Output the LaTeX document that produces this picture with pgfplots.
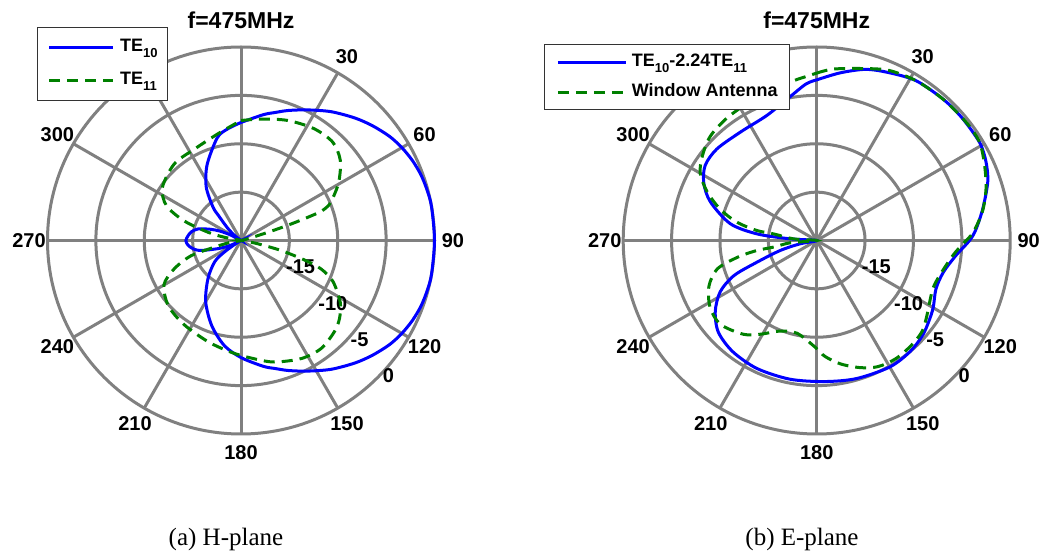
\documentclass[border=0pt]{standalone}
\usepackage{pgfplots}
\pgfplotsset{compat=1.18}
\usepackage{pgfplotstable}
\usepackage{fontspec}
\setmainfont{Liberation Sans}
\newfontfamily\capfont{Liberation Serif}

\definecolor{gridgray}{RGB}{128,128,128}
\definecolor{mblue}{RGB}{0,0,255}
\definecolor{mgreen}{RGB}{0,128,0}

\newcommand{\lab}{\fontsize{20}{20}\selectfont\bfseries}
\newcommand{\sub}[1]{\raisebox{-6pt}{\fontsize{13}{13}\selectfont #1}}

% radiation patterns: angle (deg, clockwise from top) and level (dB, floor -20 dB)
\pgfplotstableread{
ang db
0 -7.8
10 -6.8
15 -6.3
20 -5.7
27 -4.85
35 -3.75
43 -2.7
49 -1.95
55 -1.25
60 -0.8
65 -0.45
70 -0.2
75 -0.07
80 0
90 0
100 0
105 -0.07
110 -0.2
115 -0.45
120 -0.8
125 -1.25
131 -1.95
137 -2.7
145 -3.75
153 -4.85
160 -5.7
165 -6.3
170 -6.8
180 -7.9
189 -9.0
199 -10.7
210 -12.7
221 -14.8
231 -16.5
235 -17.8
238 -19.2
240 -20
245 -18.9
250 -17.6
256 -15.75
260 -15.0
265 -14.5
270 -14.3
275 -14.5
280 -14.8
285 -15.4
290 -16.6
294 -17.6
298 -18.8
303 -20
308 -19.2
312 -18.3
315 -17.6
318 -16.5
320 -15.5
327 -13.4
336 -11.4
347 -9.1
353 -8.4
360 -7.8
}\hTEten

\pgfplotstableread{
ang db
0 -7.6
9 -7.3
21 -6.7
33 -6.2
43 -6.1
51 -6.8
59 -8.2
65 -9.5
68 -10.2
70 -11.2
71 -13.0
72 -15.0
73 -17.0
74.5 -18.8
80 -19.8
90 -20
98 -19.7
101 -18.25
104 -15.75
107 -13.2
109.5 -11.25
114 -9.6
122 -7.9
128.5 -7.0
134.5 -6.5
143.5 -6.1
153 -6.3
165 -7.0
175 -7.8
185 -8.4
198 -9.0
214 -9.5
228 -9.9
240 -10.8
247 -12.5
253 -14.6
256 -17.2
261 -19.0
270 -20
281 -18.25
284 -16.5
289 -13.8
295 -11.5
304 -10.2
319 -9.5
333 -9.4
348 -8.7
360 -7.6
}\hTEeleven

\pgfplotstableread{
ang db
0 -3.4
8 -2.5
16 -1.6
23.5 -1.1
32 -0.55
42 -0.4
50 -0.35
59 -0.35
65 -0.7
71 -1.3
79 -2.5
86 -3.5
90 -4.2
96 -5.5
104 -6.5
112 -6.7
120 -6.1
126 -5.7
132 -5.3
140 -5.0
150 -4.9
164 -5.15
177 -5.4
191 -5.4
205 -5.4
217 -5.6
227 -6.1
235 -7.2
242 -8.7
247 -10.7
250 -13.4
254.7 -16.1
258.7 -18.25
265 -20
273.6 -17.25
276.3 -13.8
281 -10.9
290 -8.3
297 -6.9
304 -6.1
312.5 -6.0
325 -6.3
338 -6.1
348 -5.1
356 -3.8
360 -3.4
}\eComb

\pgfplotstableread{
ang db
0 -2.7
5.5 -2.2
15 -1.6
23 -0.9
32 -0.55
42 -0.4
52 -0.3
59 -0.35
66 -1.0
73 -1.7
80 -2.6
87 -3.8
91 -4.8
96 -5.8
106 -6.8
112.5 -7.0
120 -6.6
125.5 -6.1
131 -5.6
138 -5.4
146 -5.3
154 -5.5
161 -6.1
169 -7.0
176 -8.0
181 -9.0
192 -10.2
202 -9.9
211 -8.7
218 -7.7
229 -6.8
238 -7.0
247 -7.9
254 -9.3
258 -11.6
260.5 -13.7
261.3 -15.5
265 -17.25
270 -20
274 -17.6
278.7 -15.5
279.5 -13.7
283 -11.5
288 -9.5
294 -7.6
300 -6.1
306.5 -5.3
314.5 -4.6
324 -4.3
336 -4.0
345 -3.7
352 -3.3
356.5 -3.0
360 -2.7
}\eWindow

% polar grid (rings every 5 dB, spokes every 30 deg), angle and dB labels, title
\newcommand{\polardeco}{%
  \pgfplotsinvokeforeach{48.375,96.75,145.125,193.5}{%
    \draw[gridgray, line width=3pt, overlay] (axis cs:0,0) circle[radius=##1pt];}
  \pgfplotsinvokeforeach{0,30,60,90,120,150}{%
    \draw[gridgray, line width=3pt, overlay]
      (axis cs:{-20*sin(##1)},{-20*cos(##1)}) -- (axis cs:{20*sin(##1)},{20*cos(##1)});}
  \pgfplotsinvokeforeach{30,60,90,120,150,180,210,240,270,300}{%
    \node[font=\lab, inner sep=0pt, overlay] at (axis cs:{21.91*sin(##1)},{21.91*cos(##1)}) {##1};}
  \node[font=\lab, anchor=west, inner sep=0pt, overlay] at (axis cs:4.651,-2.759) {-15};
  \node[font=\lab, anchor=west, inner sep=0pt, overlay] at (axis cs:7.979,-6.490) {-10};
  \node[font=\lab, anchor=west, inner sep=0pt, overlay] at (axis cs:11.307,-10.221) {-5};
  \node[font=\lab, anchor=west, inner sep=0pt, overlay] at (axis cs:14.635,-13.952) {0};
  \node[font=\fontsize{23}{23}\selectfont\bfseries, inner sep=0pt, overlay] at (axis cs:0,22.74) {f=475MHz};
}

\pgfplotsset{
  polarbox/.style={
    scale only axis, width=387pt, height=387pt,
    xmin=-20, xmax=20, ymin=-20, ymax=20,
    axis lines=none, ticks=none, clip=false,
    anchor=origin,
    legend cell align=left,
  },
}

\begin{document}
\begin{tikzpicture}[x=1pt, y=1pt]

\begin{axis}[polarbox, at={(241pt,311.5pt)},
  legend image code/.code={\draw[#1] (0pt,0pt) -- (64pt,0pt);},
  legend style={overlay, at={(-0.0264,1.0525)}, anchor=north west, draw=black!80,
    line width=0.8pt, fill=white, font=\fontsize{18}{18}\selectfont\bfseries,
    inner xsep=10pt, inner ysep=11.8pt, row sep=15.7pt, column sep=5.5pt,
    nodes={inner sep=0pt, text height=13pt, text depth=4pt}}]
\polardeco
\addplot[mblue, line width=3pt, smooth, tension=0.5] table[
  x expr={(\thisrow{db}+20)*sin(\thisrow{ang})},
  y expr={(\thisrow{db}+20)*cos(\thisrow{ang})}] {\hTEten};
\addlegendentry{TE\sub{10}}
\addplot[mgreen, line width=3pt, dash pattern=on 11pt off 7pt, smooth, tension=0.5] table[
  x expr={(\thisrow{db}+20)*sin(\thisrow{ang})},
  y expr={(\thisrow{db}+20)*cos(\thisrow{ang})}] {\hTEeleven};
\addlegendentry{TE\sub{11}}
\end{axis}

\begin{axis}[polarbox, at={(816.7pt,311.5pt)},
  legend image code/.code={\draw[#1] (0pt,0pt) -- (68pt,0pt);},
  legend style={overlay, at={(-0.2047,1.0078)}, anchor=north west, draw=black!80,
    line width=0.8pt, fill=white, font=\fontsize{18}{18}\selectfont\bfseries,
    inner xsep=12pt, inner ysep=9.2pt, row sep=13pt, column sep=4.5pt,
    nodes={inner sep=0pt, text height=13pt, text depth=4pt}}]
\polardeco
\addplot[mblue, line width=3pt, smooth, tension=0.5] table[
  x expr={(\thisrow{db}+20)*sin(\thisrow{ang})},
  y expr={(\thisrow{db}+20)*cos(\thisrow{ang})}] {\eComb};
\addlegendentry{TE\sub{10}-2.24TE\sub{11}}
\addplot[mgreen, line width=3pt, dash pattern=on 11pt off 7pt, smooth, tension=0.5] table[
  x expr={(\thisrow{db}+20)*sin(\thisrow{ang})},
  y expr={(\thisrow{db}+20)*cos(\thisrow{ang})}] {\eWindow};
\addlegendentry{Window Antenna\hspace{6pt}}
\end{axis}

\node[font=\capfont\fontsize{25}{25}\selectfont, anchor=base] at (226,7) {(a) H-plane};
\node[font=\capfont\fontsize{25}{25}\selectfont, anchor=base] at (802,7) {(b) E-plane};

\pgfresetboundingbox
\useasboundingbox (0,0) rectangle (1047,552);
\end{tikzpicture}
\end{document}
